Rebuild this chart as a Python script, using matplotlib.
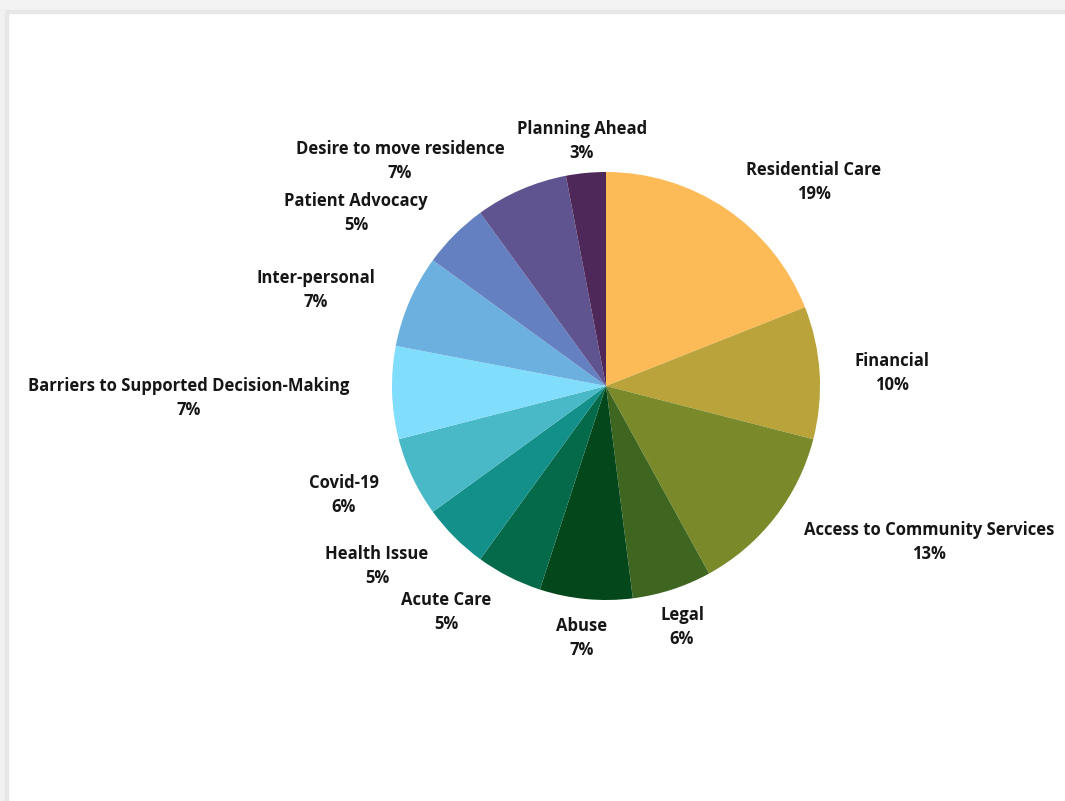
import matplotlib.pyplot as plt
from matplotlib.patches import Rectangle
import numpy as np

# Pie data (percent of cases)
categories = ["Residential Care", "Financial", "Access to Community Services", "Legal",
              "Abuse", "Acute Care", "Health Issue", "Covid-19",
              "Barriers to Supported Decision-Making", "Inter-personal",
              "Patient Advocacy", "Desire to move residence", "Planning Ahead"]
shares = [19, 10, 13, 6, 7, 5, 5, 6, 7, 7, 5, 7, 3]
colors = ["#FDBB58", "#B9A33A", "#7A8A2A", "#3E6620", "#03471A", "#046A4A",
          "#14908A", "#4AB9C7", "#80DDFB", "#6CB0E0", "#6480C0", "#5F5390", "#4E2859"]

# label centres in pixels (layout only)
label_px = [(814, 182), (892, 373), (929, 542), (682, 627), (582, 638), (446, 612),
            (377, 566), (344, 495), (189, 398), (316, 290), (356, 213), (400, 161),
            (582, 141)]

W, H = 1065, 801
fig = plt.figure(figsize=(W / 100, H / 100), dpi=100)
fig.patch.set_facecolor("white")

# screenshot frame: grey strip on top and left edge
fig.patches.append(Rectangle((0, 1 - 10 / H), 1, 10 / H, transform=fig.transFigure,
                             color="#F3F3F3", zorder=0))
fig.patches.append(Rectangle((0, 1 - 13 / H), 1, 3 / H, transform=fig.transFigure,
                             color="#E6E6E6", zorder=0))
fig.patches.append(Rectangle((0, 0), 5 / W, 1 - 10 / H, transform=fig.transFigure,
                             color="#F1F1F1", zorder=0))
fig.patches.append(Rectangle((5 / W, 0), 3 / W, 1 - 13 / H, transform=fig.transFigure,
                             color="#E6E6E6", zorder=0))

cx, cy, r = 606, 386, 214
ax = fig.add_axes([(cx - r) / W, (H - cy - r) / H, 2 * r / W, 2 * r / H])
ax.pie(shares, colors=colors, startangle=90, counterclock=False, radius=1,
       wedgeprops=dict(linewidth=0))
ax.set_xlim(-1, 1)
ax.set_ylim(-1, 1)
ax.set_aspect("equal")
ax.axis("off")

for name, val, (px, py) in zip(categories, shares, label_px):
    ax.text((px - cx) / r, (cy - py) / r, f"{name}\n{val}%", ha="center", va="center",
            fontsize=12, fontweight="bold", family="Open Sans", color="#161616",
            linespacing=1.43, clip_on=False)

fig.savefig("out.png", dpi=100)
